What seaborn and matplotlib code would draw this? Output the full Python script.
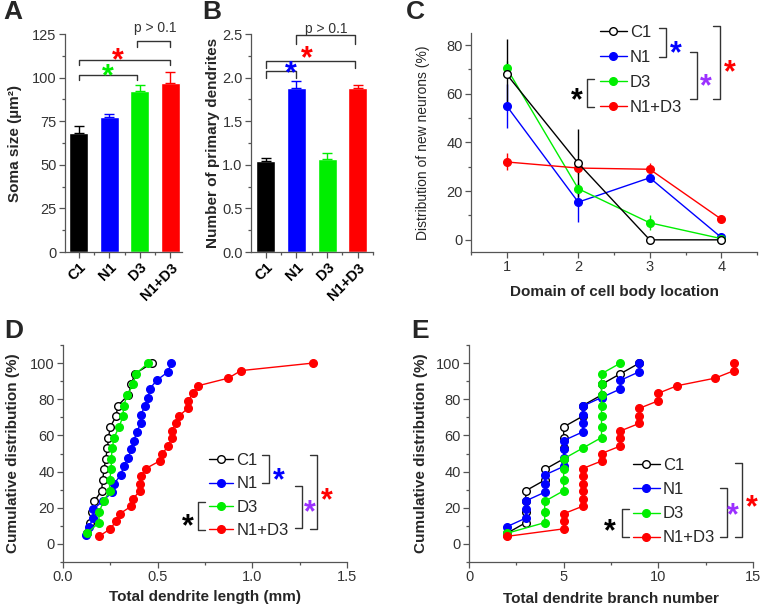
import numpy as np
import pandas as pd
import matplotlib
matplotlib.use("Agg")
import matplotlib.pyplot as plt
from matplotlib.lines import Line2D
from matplotlib.ticker import MultipleLocator, FormatStrFormatter
import seaborn as sns

W, H = 762, 608

groups = ["C1", "N1", "D3", "N1+D3"]
colors = ["#000000", "#0000ff", "#00ee00", "#ff0000"]
purple = "#9b30ff"

# A - soma size (um^2), mean and SEM
soma_mean = [68.5, 77.5, 92.5, 97.0]
soma_sem = [3.5, 1.5, 3.0, 6.0]

# B - number of primary dendrites
prim_mean = [1.04, 1.88, 1.07, 1.88]
prim_sem = [0.04, 0.08, 0.06, 0.03]

# C - distribution of new neurons by domain (%)
domains = [1, 2, 3, 4]
dom_c1 = [68.0, 31.5, 0.0, 0.0]
dom_n1 = [55.0, 15.5, 25.5, 1.0]
dom_d3 = [70.5, 21.0, 7.0, 0.5]
dom_nd = [32.0, 29.5, 29.0, 8.5]
dom_c1_sem = [14.5, 14.0, 0.0, 0.0]
dom_n1_sem = [9.0, 8.0, 1.5, 0.5]
dom_d3_sem = [3.0, 2.0, 3.0, 0.5]
dom_nd_sem = [3.5, 2.5, 2.5, 1.0]

# D - total dendrite length of each neuron (mm)
len_c1 = [0.125, 0.14, 0.155, 0.165, 0.204, 0.209, 0.217, 0.225, 0.235, 0.24,
          0.25, 0.28, 0.29, 0.345, 0.36, 0.38, 0.47]
len_n1 = [0.12, 0.137, 0.16, 0.16, 0.21, 0.26, 0.27, 0.305, 0.32, 0.345, 0.36,
          0.374, 0.39, 0.41, 0.41, 0.434, 0.45, 0.458, 0.495, 0.556, 0.57]
len_d3 = [0.127, 0.19, 0.19, 0.215, 0.246, 0.246, 0.255, 0.255, 0.26, 0.27,
          0.296, 0.317, 0.32, 0.34, 0.37, 0.385, 0.45]
len_nd = [0.19, 0.25, 0.28, 0.30, 0.36, 0.37, 0.405, 0.405, 0.414, 0.437, 0.51,
          0.525, 0.556, 0.574, 0.574, 0.597, 0.614, 0.659, 0.662, 0.685, 0.715,
          0.873, 0.94, 1.32]

# E - total dendrite branch number of each neuron
br_c1 = [2, 3, 3, 3, 3, 4, 4, 5, 5, 5, 5, 6, 6, 7, 7, 8, 9]
br_n1 = [2, 2, 3, 3, 3, 4, 4, 4, 5, 5, 5, 5, 6, 6, 6, 6, 7, 8, 8, 9, 9]
br_d3 = [2, 4, 4, 4, 5, 5, 5, 5, 6, 7, 7, 7, 7, 7, 7, 7, 8]
br_nd = [2, 5, 5, 5, 6, 6, 6, 6, 6, 6, 7, 7, 8, 8, 8, 9, 9, 9, 10, 10, 11, 13, 14, 14]

sns.set_style("ticks")
plt.rcParams["font.family"] = ["Liberation Sans", "DejaVu Sans"]

fig = plt.figure(figsize=(W / 100, H / 100), dpi=100)

STAR = 22


def fx(x):
    return x / W


def fy(y):
    return 1 - y / H


def px_axes(left, top, right, bottom):
    return fig.add_axes([left / W, 1 - bottom / H, (right - left) / W, (bottom - top) / H])


def style_axis(ax):
    sns.despine(ax=ax)
    for s in ("left", "bottom"):
        ax.spines[s].set_color("#555555")
        ax.spines[s].set_linewidth(0.9)
    ax.tick_params(which="major", direction="out", length=4, width=0.9, color="#555555",
                   labelsize=10.5, labelcolor="#333333", pad=2)
    ax.tick_params(which="minor", direction="out", length=2.5, width=0.9, color="#555555")


def star(ax, x, y, color, size=STAR):
    ax.annotate("*", xy=(x, y), xytext=(0, -0.55 * size), textcoords="offset points",
                ha="center", va="baseline", fontsize=size, fontweight="bold",
                color=color, annotation_clip=False)


def fig_star(x, y, color, size=STAR):
    fig.text(fx(x), fy(y + 0.55 * size * 100 / 72), "*", ha="center", va="baseline",
             fontsize=size, fontweight="bold", color=color)


def sig_bracket(ax, x0, x1, y, drop):
    ax.plot([x0, x0, x1, x1], [y - drop, y, y, y - drop], color="#333333", lw=1,
            clip_on=False)


def fig_bracket(x, y0, y1, side=1, t=7):
    xs = [x - side * t, x, x, x - side * t]
    ys = [y0, y0, y1, y1]
    fig.add_artist(Line2D([fx(v) for v in xs], [fy(v) for v in ys],
                          transform=fig.transFigure, color="#333333", lw=1))


def bar_panel(ax, means, sems, xlim, ylim, major, minor, fmt, ylabel, label_x):
    sns.barplot(x=groups, y=means, hue=groups, palette=colors, saturation=1,
                width=0.62, legend=False, ax=ax)
    for i, (m, e, c) in enumerate(zip(means, sems, colors)):
        ax.errorbar(i, m, yerr=[[0], [e]], fmt="none", ecolor=c, elinewidth=1,
                    capsize=3.5, capthick=1)
    style_axis(ax)
    ax.set_xlim(*xlim)
    ax.set_ylim(*ylim)
    ax.yaxis.set_major_locator(MultipleLocator(major))
    ax.yaxis.set_minor_locator(MultipleLocator(minor))
    ax.yaxis.set_major_formatter(FormatStrFormatter(fmt))
    ax.xaxis.set_minor_locator(MultipleLocator(0.5))
    ax.set_xticks(range(len(groups)))
    ax.set_xticklabels(groups, rotation=45, ha="right", va="top", rotation_mode="anchor",
                       fontweight="bold", fontsize=10.5, color="black")
    ax.set_xlabel("")
    ax.set_ylabel(ylabel, fontsize=11, fontweight="bold")
    ax.yaxis.set_label_coords(label_x, 0.5)


def curve_panel(ax, xs_list, ys_list, top_first):
    order = [1, 2, 3, 0] if top_first else [0, 1, 2, 3]
    for k, i in enumerate(order):
        face = "white" if i == 0 else colors[i]
        sns.lineplot(x=xs_list[i], y=ys_list[i], color=colors[i], lw=1, marker="o",
                     markersize=5.5, markerfacecolor=face, markeredgecolor=colors[i],
                     markeredgewidth=1, label=groups[i], estimator=None, sort=False,
                     ax=ax, zorder=3 + k)
    handles = {h.get_label(): h for h in ax.get_lines() if h.get_label() in groups}
    return [handles[g] for g in groups]


def legend_at(ax, handles, x, y, hl, ls):
    ax.legend(handles, groups, loc="upper left", bbox_to_anchor=(fx(x), fy(y)),
              bbox_transform=fig.transFigure, frameon=False, fontsize=12,
              handlelength=hl, handletextpad=0.2, labelspacing=ls, borderpad=0,
              borderaxespad=0)


# ---------------- A ----------------
axA = px_axes(65, 34, 182, 252)
bar_panel(axA, soma_mean, soma_sem, (-0.45, 3.38), (0, 125), 25, 12.5, "%d",
          "Soma size (µm²)", -0.37)
sig_bracket(axA, 0, 1.9, 101.5, 3)
sig_bracket(axA, 0, 2.98, 110, 3)
sig_bracket(axA, 1.9, 2.98, 121, 3.3)
star(axA, 0.96, 105.5, colors[2])
star(axA, 1.29, 114.5, colors[3])
axA.text(2.52, 126, "p > 0.1", ha="center", va="baseline", fontsize=10,
         color="#333333", clip_on=False)

# ---------------- B ----------------
axB = px_axes(251, 34, 373, 252)
bar_panel(axB, prim_mean, prim_sem, (-0.48, 3.5), (0, 2.5), 0.5, 0.25, "%.1f",
          "Number of primary dendrites", -0.254)
sig_bracket(axB, 0, 1, 2.076, 0.076)
sig_bracket(axB, 0, 2.92, 2.19, 0.08)
sig_bracket(axB, 0.98, 2.92, 2.49, 0.1)
star(axB, 0.82, 2.14, colors[1])
star(axB, 1.34, 2.31, colors[3])
axB.text(1.96, 2.51, "p > 0.1", ha="center", va="baseline", fontsize=10,
         color="#333333", clip_on=False)

# ---------------- C ----------------
axC = px_axes(471, 33, 757, 252)
series_c = [dom_c1, dom_n1, dom_d3, dom_nd]
sems_c = [dom_c1_sem, dom_n1_sem, dom_d3_sem, dom_nd_sem]
for i in [1, 2, 3, 0]:
    axC.errorbar(domains, series_c[i], yerr=sems_c[i], fmt="none", ecolor=colors[i],
                 elinewidth=1, zorder=2)
hC = curve_panel(axC, [domains] * 4, series_c, top_first=True)
style_axis(axC)
axC.set_xlim(0.5, 4.5)
axC.set_ylim(-5, 85)
axC.xaxis.set_major_locator(MultipleLocator(1))
axC.xaxis.set_minor_locator(MultipleLocator(0.5))
axC.yaxis.set_major_locator(MultipleLocator(20))
axC.yaxis.set_minor_locator(MultipleLocator(10))
axC.set_xlabel("Domain of cell body location", fontsize=11, fontweight="bold")
axC.set_ylabel("Distribution of new neurons (%)", fontsize=10)
axC.xaxis.set_label_coords(0.5, -0.15)
axC.yaxis.set_label_coords(-0.143, 0.5)
legend_at(axC, hC, 600, 25, 1.6, 0.6)
fig_bracket(666, 28, 57)
fig_star(676, 45, colors[1])
fig_bracket(697, 52, 99)
fig_star(706, 78, purple)
fig_bracket(720, 26, 99)
fig_star(730, 64, colors[3])
fig_bracket(587, 79, 107, side=-1)
fig_star(577, 92, "black")


# ---------------- D and E ----------------
def cumulative_panel(ax, samples, xlim, xmajor, xminor, xfmt, xlabel, top_first):
    pcts = [np.arange(1, len(s) + 1) / len(s) * 100 for s in samples]
    handles = curve_panel(ax, samples, pcts, top_first)
    style_axis(ax)
    ax.set_xlim(*xlim)
    ax.set_ylim(-10, 110)
    ax.xaxis.set_major_locator(MultipleLocator(xmajor))
    ax.xaxis.set_minor_locator(MultipleLocator(xminor))
    ax.xaxis.set_major_formatter(FormatStrFormatter(xfmt))
    ax.yaxis.set_major_locator(MultipleLocator(20))
    ax.yaxis.set_minor_locator(MultipleLocator(10))
    ax.set_xlabel(xlabel, fontsize=11, fontweight="bold")
    ax.set_ylabel("Cumulative distribution (%)", fontsize=11, fontweight="bold")
    return handles


axD = px_axes(63, 345, 347, 562)
hD = cumulative_panel(axD, [len_c1, len_n1, len_d3, len_nd], (0, 1.5), 0.5, 0.25,
                      "%.1f", "Total dendrite length (mm)", top_first=False)
axD.xaxis.set_label_coords(0.5, -0.13)
axD.yaxis.set_label_coords(-0.151, 0.5)
legend_at(axD, hD, 209, 453, 1.45, 0.5)
fig_bracket(269, 455, 483)
fig_star(279, 472, colors[1])
fig_bracket(302, 486, 528)
fig_star(310, 504, purple)
fig_bracket(317, 455, 529)
fig_star(327, 492, colors[3])
fig_bracket(198, 502, 530, side=-1)
fig_star(188, 518, "black")

axE = px_axes(469, 345, 753, 562)
hE = cumulative_panel(axE, [br_c1, br_n1, br_d3, br_nd], (0, 15), 5, 2.5, "%d",
                      "Total dendrite branch number", top_first=False)
axE.xaxis.set_label_coords(0.5, -0.14)
axE.yaxis.set_label_coords(-0.144, 0.5)
legend_at(axE, hE, 633, 458, 1.6, 0.55)
fig_bracket(727, 488, 537)
fig_star(733, 507, purple)
fig_bracket(742, 463, 537)
fig_star(752, 499, colors[3])
fig_bracket(622, 509, 537, side=-1)
fig_star(610, 523, "black")

# panel letters
for letter, (x, y) in zip("ABCDE", [(3, 0), (202, 0), (406, 0), (4, 319), (411, 319)]):
    fig.text(fx(x), fy(y), letter, ha="left", va="top", fontsize=19, fontweight="bold")

fig.savefig("out.png", dpi=100)
